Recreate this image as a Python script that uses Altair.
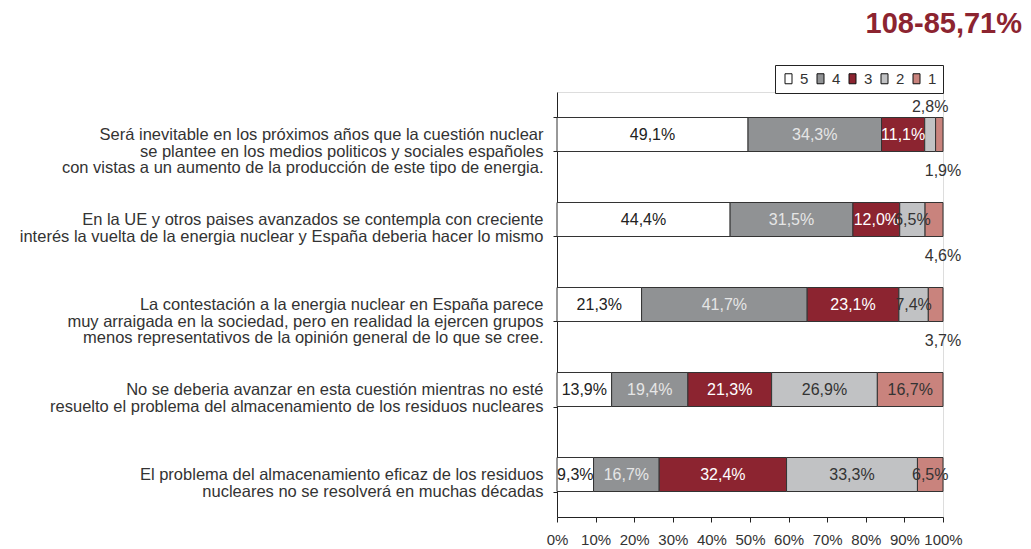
import altair as alt
import pandas as pd

questions = [
    "Será inevitable en los próximos años que la cuestión nuclear|se plantee en los medios politicos y sociales españoles|con vistas a un aumento de la producción de este tipo de energia.",
    "En la UE y otros paises avanzados se contempla con creciente|interés la vuelta de la energia nuclear y España deberia hacer lo mismo",
    "La contestación a la energia nuclear en España parece|muy arraigada en la sociedad, pero en realidad la ejercen grupos|menos representativos de la opinión general de lo que se cree.",
    "No se deberia avanzar en esta cuestión mientras no esté|resuelto el problema del almacenamiento de los residuos nucleares",
    "El problema del almacenamiento eficaz de los residuos|nucleares no se resolverá en muchas décadas",
]
cats = ["5", "4", "3", "2", "1"]
v5 = [49.1, 44.4, 21.3, 13.9, 9.3]
v4 = [34.3, 31.5, 41.7, 19.4, 16.7]
v3 = [11.1, 12.0, 23.1, 21.3, 32.4]
v2 = [2.8, 6.5, 7.4, 26.9, 33.3]
v1 = [1.9, 4.6, 3.7, 16.7, 6.5]
series = [v5, v4, v3, v2, v1]
x_ticks = [0, 0.1, 0.2, 0.3, 0.4, 0.5, 0.6, 0.7, 0.8, 0.9, 1.0]

fill_colors = ["#ffffff", "#909294", "#8c2430", "#c1c2c4", "#c9837d"]
text_colors = ["#222222", "#e6e6e6", "#ffffff", "#333333", "#333333"]

rows = []
for qi, q in enumerate(questions):
    for ci, (c, vals) in enumerate(zip(cats, series)):
        v = vals[qi]
        if c == "1" and v < 5:
            pos = "below"
        elif c == "2" and v < 3:
            pos = "above"
        else:
            pos = "in"
        rows.append({"q": q, "cat": c, "rank": ci, "value": v,
                     "label": f"{v:.1f}".replace(".", ",") + "%", "pos": pos})
df = pd.DataFrame(rows)

FONT = "Liberation Sans"

base = alt.Chart(df).transform_stack(
    stack="value", groupby=["q"], as_=["s0", "s1"],
    sort=[alt.SortField(field="rank", order="ascending")], offset="normalize"
).transform_calculate(mid="(datum.s0 + datum.s1) / 2")

yscale = alt.Scale(paddingInner=0.6, paddingOuter=0.3)
yaxis = alt.Axis(labelExpr="split(datum.label, '|')", tickBand="extent",
                 tickSize=4, labelPadding=10, labelFontSize=16.5,
                 labelLineHeight=16.5, labelLimit=700, labelColor="#333333",
                 domainColor="#222222", tickColor="#222222", grid=False)
Y = alt.Y("q:N", sort=questions, title=None, scale=yscale, axis=yaxis)

xscale = alt.Scale(domain=[0, 1], nice=False)
xaxis = alt.Axis(values=x_ticks, format="%", title=None, grid=False,
                 labelFontSize=15, tickSize=5, labelPadding=10, labelFlush=False,
                 labelOverlap=False,
                 labelColor="#333333", domainColor="#222222", tickColor="#222222")


def X(field):
    return alt.X(field, type="quantitative", scale=xscale, axis=xaxis, title=None)


bars = base.mark_bar(stroke="#333333", strokeWidth=1).encode(
    x=X("s0"),
    x2="s1:Q",
    y=Y,
    fill=alt.Fill("cat:N", scale=alt.Scale(domain=cats, range=fill_colors),
                  legend=alt.Legend(title=None, orient="none", legendX=218, legendY=-27,
                                    direction="horizontal", columns=5,
                                    symbolType="M-0.7,-1H0.7V1H-0.7Z",
                                    symbolSize=100, symbolStrokeColor="#111111",
                                    symbolStrokeWidth=1, labelFontSize=15,
                                    labelColor="#333333", strokeColor="#222222",
                                    padding=6, columnPadding=4, labelOffset=4,
                                    fillColor="white")),
)

inside = base.transform_filter("datum.pos == 'in'").mark_text(
    fontSize=16, font=FONT).encode(
    x=X("mid"),
    y=Y,
    color=alt.Color("cat:N", scale=alt.Scale(domain=cats, range=text_colors), legend=None),
    text="label:N",
)

below = base.transform_filter("datum.pos == 'below'").mark_text(
    fontSize=16, font=FONT, dy=36, color="#333333").encode(
    x=X("s1"), y=Y, text="label:N")

above = base.transform_filter("datum.pos == 'above'").mark_text(
    fontSize=16, font=FONT, dy=-28, color="#333333").encode(
    x=X("mid"), y=Y, text="label:N")

chart = alt.layer(bars, inside, below, above).properties(
    width=386, height=425,
    title=alt.TitleParams("108-85,71%", anchor="end", frame="group", fontSize=29,
                          fontWeight="bold", color="#8c2430", font=FONT, dx=79, offset=26),
    autosize=alt.AutoSizeParams(type="none"),
    padding={"left": 549, "top": 84, "right": 80, "bottom": 30},
).configure_view(strokeWidth=0, stroke="transparent").configure_axis(
    grid=False, labelFont=FONT).configure_legend(labelFont=FONT).configure(font=FONT)

chart.save("out.html", embed_options={"renderer": "svg", "actions": False})
